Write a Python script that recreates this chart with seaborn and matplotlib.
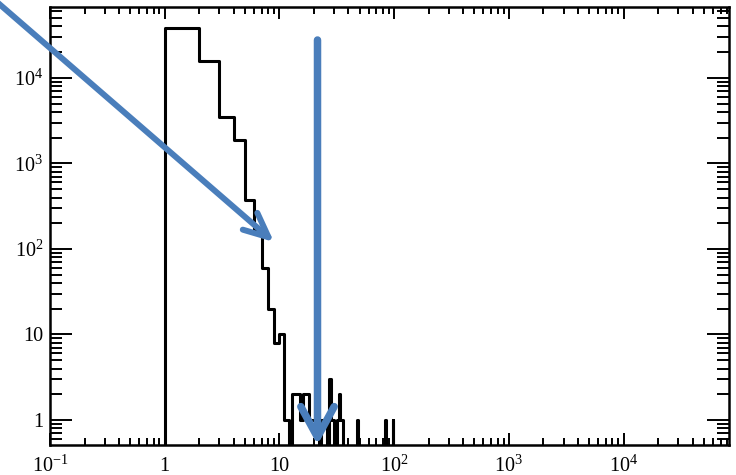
import numpy as np
import matplotlib
matplotlib.use('Agg')
import matplotlib.pyplot as plt
import seaborn as sns
from matplotlib.patches import FancyArrowPatch
from matplotlib.ticker import FixedLocator, LogLocator, NullFormatter

sns.set_style('ticks')
plt.rcParams['font.family'] = ['Liberation Serif', 'DejaVu Serif']
plt.rcParams['mathtext.fontset'] = 'custom'
plt.rcParams['mathtext.rm'] = 'Liberation Serif'
plt.rcParams['mathtext.it'] = 'Liberation Serif:italic'
plt.rcParams['mathtext.bf'] = 'Liberation Serif:bold'

# ---- data: integer-valued bins (left edge) and their counts ----
values = [1, 2, 3, 4, 5, 6, 7, 8, 9, 10, 11,
          13, 14, 15, 16, 17, 18, 19, 20, 21, 23, 24, 25,
          27, 28, 29, 32, 33, 34, 35, 47, 84, 97]
counts = [38400, 15800, 3500, 1880, 374, 167, 60, 20, 8, 10, 1,
          2, 2, 1, 2, 2, 1, 1, 1, 1, 1, 1, 1,
          3, 1, 1, 1, 2, 1, 1, 1, 1, 1]
bin_edges = [0.5] + list(range(1, 102))

x_ticks = [0.1, 1, 10, 100, 1000, 10000]
x_tick_labels = [r'$\mathregular{10^{-1}}$', '1', '10',
                 r'$\mathregular{10^{2}}$', r'$\mathregular{10^{3}}$',
                 r'$\mathregular{10^{4}}$']
y_ticks = [1, 10, 100, 1000, 10000]
y_tick_labels = ['1', '10', r'$\mathregular{10^{2}}$',
                 r'$\mathregular{10^{3}}$', r'$\mathregular{10^{4}}$']

W, H = 736, 475
fig = plt.figure(figsize=(W / 100, H / 100), dpi=100)
ax = fig.add_axes([50 / W, 1 - 445 / H, (729 - 50) / W, (445 - 7) / H])

sns.histplot(x=values, weights=counts, bins=bin_edges, element='step',
             fill=False, color='black', linewidth=2.2, ax=ax)

ax.set_xscale('log')
ax.set_yscale('log')
ax.set_xlim(0.1, 8.3e4)
ax.set_ylim(0.51, 6.76e4)
ax.set_xlabel('')
ax.set_ylabel('')

ax.xaxis.set_major_locator(FixedLocator(x_ticks))
ax.xaxis.set_minor_locator(LogLocator(base=10, subs=np.arange(2, 10), numticks=100))
ax.xaxis.set_minor_formatter(NullFormatter())
ax.set_xticklabels(x_tick_labels)
ax.yaxis.set_major_locator(FixedLocator(y_ticks))
ax.yaxis.set_minor_locator(LogLocator(base=10, subs=np.arange(2, 10), numticks=100))
ax.yaxis.set_minor_formatter(NullFormatter())
ax.set_yticklabels(y_tick_labels)

ax.tick_params(which='both', direction='in', top=True, right=True,
               width=1.4, colors='black', labelsize=14.5)
ax.tick_params(axis='y', which='major', length=16, pad=5)
ax.tick_params(axis='y', which='minor', length=8.6)
ax.tick_params(axis='x', which='major', length=8.6, pad=19)
ax.tick_params(axis='x', which='minor', length=5)
for t in ax.xaxis.get_major_ticks():
    t.label1.set_verticalalignment('baseline')

for s in ax.spines.values():
    s.set_linewidth(1.8)
    s.set_color('black')

# ---- annotation arrows (figure pixel coordinates) ----
def px(x, y):
    return (x / W, 1 - y / H)

blue = '#4A7EBB'
a1 = FancyArrowPatch(px(-10, -4), px(274, 242), transform=fig.transFigure,
                     arrowstyle='->,head_length=17.6,head_width=8',
                     mutation_scale=1, lw=4.3, color=blue,
                     shrinkA=0, shrinkB=0)
a2 = FancyArrowPatch(px(317.5, 40), px(317.5, 445), transform=fig.transFigure,
                     arrowstyle='->,head_length=22,head_width=12',
                     mutation_scale=1, lw=5.4, color=blue,
                     shrinkA=0, shrinkB=0)
fig.add_artist(a1)
fig.add_artist(a2)

fig.savefig('out.png', dpi=100)
